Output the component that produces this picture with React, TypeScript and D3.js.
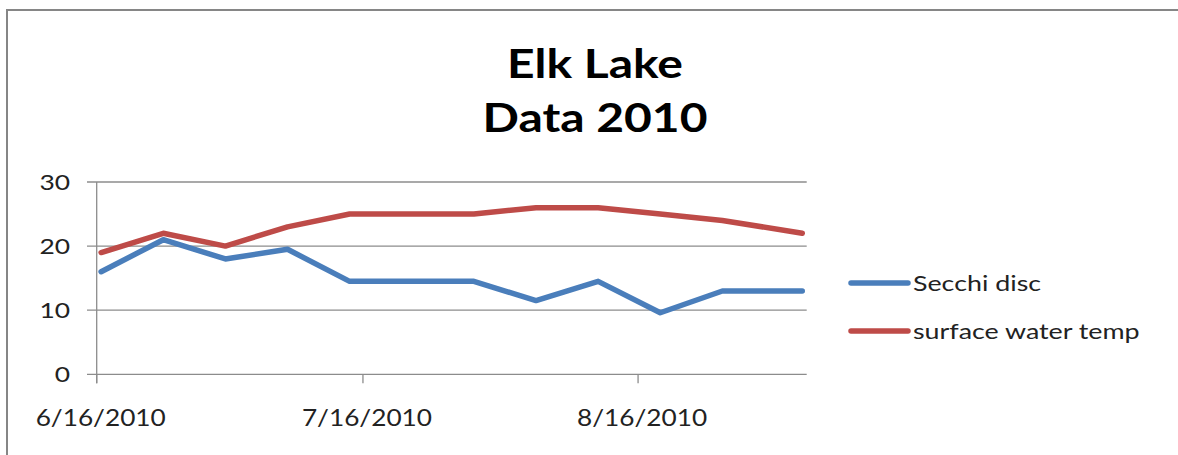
import React, { useEffect, useRef } from 'react';
import * as d3 from 'd3';

const dates = ['2010-06-16', '2010-06-23', '2010-06-30', '2010-07-07', '2010-07-14', '2010-07-21',
  '2010-07-28', '2010-08-04', '2010-08-11', '2010-08-18', '2010-08-25', '2010-09-03'];
const secchi = [16, 21, 18, 19.5, 14.5, 14.5, 14.5, 11.5, 14.5, 9.6, 13, 13];
const waterTemp = [19, 22, 20, 23, 25, 25, 25, 26, 26, 25, 24, 22];
const seriesNames = ['Secchi disc', 'surface water temp'];
const seriesColors = ['#4A7EBB', '#BE4B48'];
const yTicks = [0, 10, 20, 30];
const xTickDates = ['2010-06-16', '2010-07-16', '2010-08-16'];
const titleLines = ['Elk Lake', 'Data 2010'];

const width = 1178;
const height = 455;
const font = 'Lato, "Open Sans", sans-serif';

export default function App() {
  const svgRef = useRef<SVGSVGElement>(null);

  useEffect(() => {
    const svg = d3.select(svgRef.current);
    svg.selectAll('*').remove();

    const parse = d3.utcParse('%Y-%m-%d');
    const fmt = d3.utcFormat('%-m/%-d/%Y');
    const days = dates.map(d => parse(d) as Date);
    const start = days[0];
    const end = d3.utcDay.offset(days[days.length - 1], 1);

    const x = d3.scaleUtc().domain([start, end]).range([96.7, 806.7]);
    const y = d3.scaleLinear().domain([0, 30]).range([374.3, 182]);

    // the source picture is a bit stretched sideways, so text gets a scaleX
    const addText = (tx: number, ty: number, sx: number, size: number, anchor: string, str: string) =>
      svg.append('text')
        .attr('transform', `translate(${tx},${ty}) scale(${sx},1)`)
        .attr('text-anchor', anchor)
        .style('font-family', font)
        .style('font-size', `${size}px`)
        .style('fill', '#222')
        .text(str);

    // chart border
    svg.append('rect')
      .attr('x', 7).attr('y', 10)
      .attr('width', width).attr('height', height)
      .attr('fill', '#fff')
      .attr('stroke', '#868686')
      .attr('stroke-width', 2);

    // title
    titleLines.forEach((t, i) => {
      addText(595, 78 + i * 54, 1.17, 41, 'middle', t)
        .style('font-weight', 'bold')
        .style('fill', '#000');
    });

    // gridlines + y axis labels
    yTicks.forEach(v => {
      svg.append('line')
        .attr('x1', 87).attr('x2', 806.7)
        .attr('y1', y(v)).attr('y2', y(v))
        .attr('stroke', '#8c8c8c').attr('stroke-width', 1.3);
      addText(70, y(v) + 8, 1.2, 22, 'end', String(v));
    });

    // y axis line
    svg.append('line')
      .attr('x1', x(start)).attr('x2', x(start))
      .attr('y1', y(30)).attr('y2', y(0) + 9)
      .attr('stroke', '#8c8c8c').attr('stroke-width', 1.3);

    // x ticks and labels
    xTickDates.forEach(d => {
      const t = parse(d) as Date;
      svg.append('line')
        .attr('x1', x(t)).attr('x2', x(t))
        .attr('y1', y(0)).attr('y2', y(0) + 9)
        .attr('stroke', '#8c8c8c').attr('stroke-width', 1.3);
      addText(x(t) + 4, 426, 1.14, 23, 'middle', fmt(t));
    });

    // lines
    const mid = (d: Date) => new Date(d.getTime() + 12 * 3600 * 1000);
    const line = d3.line<number>()
      .x((_, i) => x(mid(days[i])))
      .y(v => y(v));

    [secchi, waterTemp].forEach((vals, i) => {
      svg.append('path')
        .attr('d', line(vals))
        .attr('fill', 'none')
        .attr('stroke', seriesColors[i])
        .attr('stroke-width', 5.5)
        .attr('stroke-linejoin', 'round')
        .attr('stroke-linecap', 'round');
    });

    // legend
    seriesNames.forEach((name, i) => {
      const ly = 283 + i * 48;
      svg.append('line')
        .attr('x1', 851).attr('x2', 908)
        .attr('y1', ly).attr('y2', ly)
        .attr('stroke', seriesColors[i])
        .attr('stroke-width', 5.5)
        .attr('stroke-linecap', 'round');
      addText(913, ly + 8, 1.22, 22, 'start', name);
    });
  }, []);

  return (
    <div style={{ position: 'absolute', left: 0, top: 0, width, height, overflow: 'hidden', background: '#fff' }}>
      <svg ref={svgRef} width={width} height={height} style={{ display: 'block' }} />
    </div>
  );
}
